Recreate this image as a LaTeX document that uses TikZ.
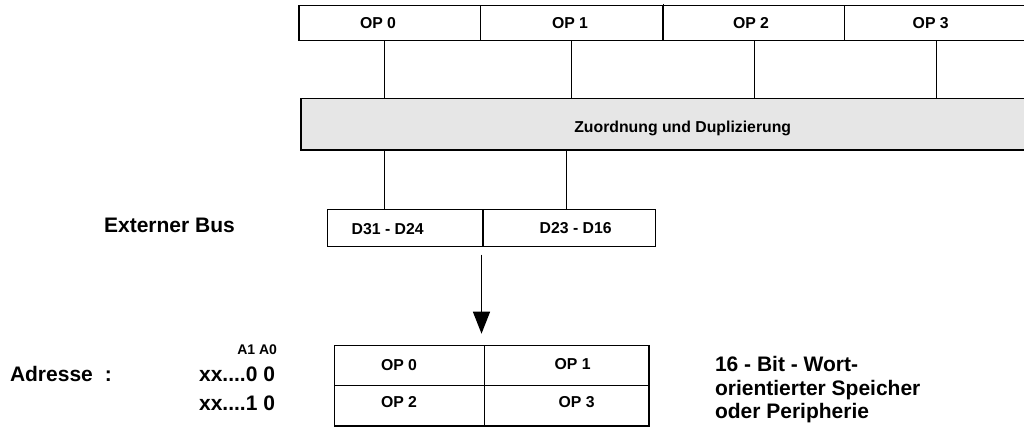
\documentclass[tikz,border=0pt]{standalone}
\usepackage{fontspec}
\setmainfont{Liberation Sans}
\usetikzlibrary{arrows.meta}
\definecolor{boxgray}{HTML}{E6E6E6}
\newcommand{\fbig}{\fontsize{21}{23.2}\selectfont\bfseries}
\newcommand{\fmid}{\fontsize{15.8}{18}\selectfont\bfseries}
\newcommand{\fsml}{\fontsize{14}{16}\selectfont\bfseries}
\begin{document}
\begin{tikzpicture}[x=1pt,y=-1pt,
  cell/.style={draw, line width=1.5pt, rectangle, inner sep=0pt, outer sep=0pt, anchor=north west},
  conn/.style={draw, line width=1pt},
  flow/.style={draw, line width=1.3pt, -{Triangle[length=22pt,width=17pt]}},
  lbl/.style={inner sep=0pt, outer sep=0pt, anchor=base, font=\fmid},
  big/.style={inner sep=0pt, outer sep=0pt, font=\fbig}]
\useasboundingbox (0,0) rectangle (1024,427);

% top operand register
\node[cell, minimum width=181.3pt, minimum height=35pt] (t0) at (299,5.7) {};
\node[cell, minimum width=182.7pt, minimum height=35pt] (t1) at (480.3,5.7) {};
\node[cell, minimum width=181.7pt, minimum height=35pt] (t2) at (663,5.7) {};
\node[cell, minimum width=185.3pt, minimum height=35pt] (t3) at (844.7,5.7) {};
\coordinate (tick) at (663,4);
\draw[line width=1pt] (tick) -- (t2.north west);
\node[lbl] (lt0) at (378,28.4) {OP 0};
\node[lbl] (lt1) at (570,28.4) {OP 1};
\node[lbl] (lt2) at (751,28.4) {OP 2};
\node[lbl] (lt3) at (930.7,28.4) {OP 3};

% mapping unit
\node[cell, fill=boxgray, minimum width=729pt, minimum height=51.3pt] (gray) at (301,98.7) {};
\node[lbl] (lgray) at (682.7,132.3) {Zuordnung und Duplizierung};

% connectors top -> mapping
\coordinate (k0) at (384.8,0);
\coordinate (k1) at (571.7,0);
\coordinate (k2) at (754.3,0);
\coordinate (k3) at (936.5,0);
\draw[conn] (t0.south -| k0) -- (gray.north -| k0);
\draw[conn] (t1.south -| k1) -- (gray.north -| k1);
\draw[conn] (t2.south -| k2) -- (gray.north -| k2);
\draw[conn] (t3.south -| k3) -- (gray.north -| k3);

% external bus
\node[cell, minimum width=155.3pt, minimum height=37.4pt] (b0) at (327.7,209.3) {};
\node[cell, minimum width=172.3pt, minimum height=37.4pt] (b1) at (483,209.3) {};
\node[lbl] (lb0) at (387.7,235) {D31 - D24};
\node[lbl] (lb1) at (575.7,233.4) {D23 - D16};
\node[big, anchor=base] (ext) at (169.5,232.3) {Externer Bus};

% connectors mapping -> bus
\coordinate (m0) at (384.5,0);
\coordinate (m1) at (566,0);
\draw[conn] (gray.south -| m0) -- (b0.north -| m0);
\draw[conn] (gray.south -| m1) -- (b1.north -| m1);

% memory
\node[cell, minimum width=149.6pt, minimum height=40pt] (s0) at (334.7,345.7) {};
\node[cell, minimum width=164.7pt, minimum height=40pt] (s1) at (484.3,345.7) {};
\node[cell, minimum width=149.6pt, minimum height=40.3pt] (s2) at (334.7,385.7) {};
\node[cell, minimum width=164.7pt, minimum height=40.3pt] (s3) at (484.3,385.7) {};
\node[lbl] (ls0) at (399,370.5) {OP 0};
\node[lbl] (ls1) at (572.7,369.5) {OP 1};
\node[lbl] (ls2) at (399,407.8) {OP 2};
\node[lbl] (ls3) at (576.7,407.5) {OP 3};

% arrow bus -> memory
\coordinate (ax) at (481.5,0);
\draw[flow, shorten <=8pt, shorten >=12pt] (b0.south -| ax) -- (s0.north -| ax);

% address labels
\node[inner sep=0pt, outer sep=0pt, anchor=base east, font=\fsml] (a10) at (277,354) {A1 A0};
\node[big, anchor=base west] (adr) at (10,381) {Adresse\hspace{12pt}:};
\node[big, anchor=base east] (x0) at (275,381) {xx....0 0};
\node[big, anchor=base east] (x1) at (275,410.5) {xx....1 0};

% description
\node[big, anchor=base west] (r1) at (715,371.7) {16 - Bit - Wort-};
\node[big, anchor=base west] (r2) at (715,395) {orientierter Speicher};
\node[big, anchor=base west] (r3) at (715,418) {oder Peripherie};
\end{tikzpicture}
\end{document}
